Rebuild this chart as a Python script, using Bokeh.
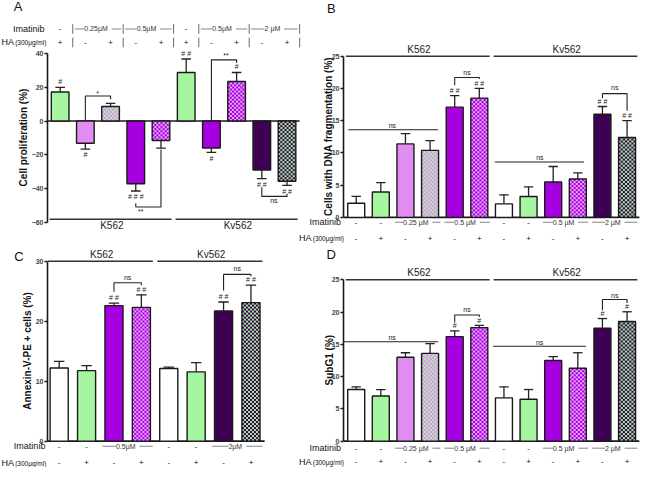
import math
import numpy as np
from bokeh.plotting import figure
from bokeh.models import Range1d, FixedTicker, Label, ColumnDataSource, GridBox
from bokeh.embed import file_html
from bokeh.resources import INLINE

FONT = "Liberation Sans"
SX = 642 / 658
SY = 467 / 483

# ---------------- data ----------------
A_vals = [17.2, -13.2, 8.6, -37.2, -11.5, 28.8, -16.0, 23.5, -29.0, -35.7]
A_errs = [2.8, 3.4, 1.9, 4.3, 4.5, 8.0, 2.6, 5.3, 5.2, 2.5]
A_sig = ["#", "#", "", "###", "", "##", "#", "#", "##", "##"]
A_style = ["G", "L", "LG", "P", "PL", "G", "P", "PL", "D", "DG"]
A_imatinib = ["-", "0.25µM", "0.25µM", "0.5µM", "0.5µM", "-", "0.5µM", "0.5µM", "2 µM", "2 µM"]
A_ha = ["+", "-", "+", "-", "+", "+", "-", "+", "-", "+"]
A_cells = ["K562"] * 5 + ["Kv562"] * 5
A_brackets = [(2, 3, 0.0, 14.9, 13.0, "*", 2.49, 16.6),
              (4, 5, -48.7, -51.0, -16.8, "**", 4.2, -53.8),
              (7, 8, 0.0, 36.3, 34.4, "**", 7.58, 38.6),
              (9, 10, -39.2, -44.7, -43.1, "ns", 9.48, -47.2)]
A_lines = []
A_separators = [1.5, 3.5, 5.5, 6.5, 8.5, 10.5]

B_vals = [2.2, 3.95, 11.4, 10.4, 17.1, 18.5, 2.1, 3.25, 5.5, 5.95, 16.0, 12.4]
B_errs = [1.05, 1.45, 1.6, 1.5, 1.8, 1.5, 1.4, 1.5, 2.4, 0.95, 1.2, 2.6]
B_sig = ["", "", "", "", "##", "##", "", "", "", "", "##", "##"]
B_style = ["W", "G", "L", "LG", "P", "PL", "W", "G", "P", "PL", "D", "DG"]
B_imatinib = ["-", "-", "0.25 µM", "0.25 µM", "0.5 µM", "0.5 µM", "-", "-", "0.5 µM", "0.5 µM", "2 µM", "2 µM"]
B_ha = ["-", "+"] * 6
B_cells = ["K562"] * 6 + ["Kv562"] * 6
B_brackets = [(5, 6, 20.5, 21.7, 21.45, "ns", 5.5, 22.55),
              (11, 12, 18.5, 19.2, 16.55, "ns", 11.5, 20.1)]
B_lines = [(0.68, 4.33, 13.6, "ns", 2.47, 14.25), (6.63, 10.25, 8.6, "ns", 8.46, 9.25)]

C_vals = [12.2, 11.75, 22.6, 22.3, 12.1, 11.55, 21.7, 23.1]
C_errs = [1.1, 0.85, 0.4, 2.1, 0.25, 1.55, 1.5, 2.9]
C_sig = ["", "", "##", "##", "", "", "##", "##"]
C_style = ["W", "G", "P", "PL", "W", "G", "D", "DG"]
C_imatinib = ["-", "-", "0.5µM", "0.5µM", "-", "-", "2µM", "2µM"]
C_ha = ["-", "+"] * 4
C_cells = ["K562"] * 4 + ["Kv562"] * 4
C_brackets = [(3, 4, 24.9, 26.4, 26.0, "ns", 3.5, 27.3),
              (7, 8, 25.1, 27.8, 27.5, "ns", 7.5, 28.7)]
C_lines = []

D_vals = [8.0, 7.0, 13.0, 13.6, 16.2, 17.6, 6.7, 6.5, 12.5, 11.3, 17.5, 18.55]
D_errs = [0.4, 1.0, 0.7, 1.5, 0.9, 0.35, 1.7, 1.5, 0.6, 2.4, 1.5, 1.5]
D_sig = ["", "", "", "", "#", "#", "", "", "", "", "#", "#"]
D_style = ["W", "G", "L", "LG", "P", "PL", "W", "G", "P", "PL", "D", "DG"]
D_imatinib = ["-", "-", "0.25 µM", "0.25 µM", "0.5 µM", "0.5 µM", "-", "-", "0.5 µM", "0.5 µM", "2 µM", "2 µM"]
D_ha = ["-", "+"] * 6
D_cells = ["K562"] * 6 + ["Kv562"] * 6
D_brackets = [(5, 6, 18.4, 19.55, 19.25, "ns", 5.5, 20.35),
              (11, 12, 20.3, 21.95, 21.4, "ns", 11.5, 22.6)]
D_lines = [(0.48, 4.33, 15.4, "ns", 2.46, 16.1), (6.56, 10.33, 14.7, "ns", 8.45, 15.3)]

# ---------------- styles ----------------
COL = {"W": ("#FFFFFF", None), "G": ("#A6F5A0", None), "L": ("#E08CF0", None),
       "P": ("#A600E0", None), "D": ("#3E0052", None),
       "LG": ("#E08CF0", "#B4F0B0"), "PL": ("#A600E0", "#EBA8F6"), "DG": ("#3E0052", "#9CE89C")}


def rgba32(hexcol):
    h = hexcol.lstrip("#")
    r, g, b = int(h[0:2], 16), int(h[2:4], 16), int(h[4:6], 16)
    return np.uint32((255 << 24) | (b << 16) | (g << 8) | r)


def lab(p, x, y, text, size, align="center", baseline="middle", bold=False,
        angle=0.0, bg=None, color="#111111"):
    p.add_layout(Label(x=x, y=y, text=text, text_font=FONT, text_font_size=f"{size}px",
                       text_align=align, text_baseline=baseline,
                       text_font_style="bold" if bold else "normal", angle=angle,
                       background_fill_color=bg, text_color=color))


def runs(labels):
    out = []
    i = 0
    while i < len(labels):
        j = i
        while j + 1 < len(labels) and labels[j + 1] == labels[i]:
            j += 1
        out.append((labels[i], i + 1, j + 1))
        i = j + 1
    return out


def build(P):
    cx0, cy0, cw, ch = P["canvas"]
    fl, ft, fr, fb = P["frame"]
    c1, dx = P["xmap"]
    (va, pa), (vb, pb) = P["ymap"]
    upp = (va - vb) / (pb - pa)

    def xd(px):
        return 1 + (px - c1) / dx

    def yd(py):
        return va + (pa - py) * upp

    W = round(cw * SX)
    H = round(ch * SY)
    L = round((fl - cx0) * SX)
    R = W - round((fr - cx0) * SX)
    T = round((ft - cy0) * SY)
    B = H - round((fb - cy0) * SY)
    p = figure(width=W, height=H, output_backend="svg", toolbar_location=None,
               x_range=Range1d(xd(fl), xd(fr)), y_range=Range1d(yd(fb), yd(ft)),
               x_axis_location=None, min_border_left=L, min_border_right=R,
               min_border_top=T, min_border_bottom=B, frame_align=False)
    p.grid.visible = False
    p.outline_line_color = None
    p.background_fill_color = "white"
    p.border_fill_color = "white"

    ax = p.yaxis[0]
    ax.bounds = P["ybounds"]
    ax.ticker = FixedTicker(ticks=P["yticks"])
    ax.minor_tick_line_color = None
    ax.major_tick_in = 0
    ax.major_tick_out = 3
    ax.major_tick_line_width = 1.3
    ax.axis_line_width = 1.6
    ax.axis_line_color = "#1a1a1a"
    ax.major_tick_line_color = "#1a1a1a"
    ax.major_label_text_font = FONT
    ax.major_label_text_font_size = "7px"
    ax.major_label_text_font_style = "bold"
    ax.major_label_standoff = 1

    vals, errs, sig, style = P["vals"], P["errs"], P["sig"], P["style"]
    n = len(vals)
    xs = list(range(1, n + 1))
    bw = P["bw"]

    # baseline at zero
    p.segment(x0=[xd(fl)], y0=[0], x1=[n + 0.5], y1=[0], line_color="#1a1a1a", line_width=1.6)

    plain = [i for i in range(n) if COL[style[i]][1] is None]
    chk = [i for i in range(n) if COL[style[i]][1] is not None]
    p.vbar(x="x", top="top", bottom=0, width=bw, fill_color="fill",
           line_color="#1a1a1a", line_width=1.4,
           source=ColumnDataSource(dict(x=[xs[i] for i in plain], top=[vals[i] for i in plain],
                                        fill=[COL[style[i]][0] for i in plain])))
    # checkered bars: a fine checkerboard image stretched over the bar extent, then the outline
    for i in chk:
        ca, cb = COL[style[i]]
        wpx = max(2, int(round(bw * dx * SX)))
        hpx = max(2, int(round(abs(vals[i]) / upp * SY)))
        yy, xx = np.mgrid[0:hpx, 0:wpx]
        mask = ((yy // 2 + xx // 2) % 2) == 0
        img = np.where(mask, rgba32(ca), rgba32(cb)).astype(np.uint32)
        p.image_rgba(image=[img], x=xs[i] - bw / 2, y=min(0, vals[i]), dw=bw, dh=abs(vals[i]))
    p.vbar(x=[xs[i] for i in chk], top=[vals[i] for i in chk], bottom=0, width=bw,
           fill_color=None, line_color="#1a1a1a", line_width=1.4)

    # one-sided error bars
    ends = [v + (e if v >= 0 else -e) for v, e in zip(vals, errs)]
    p.segment(x0=xs, y0=vals, x1=xs, y1=ends, line_color="#222222", line_width=1.3)
    p.segment(x0=[x - 0.19 for x in xs], y0=ends, x1=[x + 0.19 for x in xs], y1=ends,
              line_color="#222222", line_width=1.3)

    off = P["sig_off"] * upp
    for x, v, e, s in zip(xs, vals, ends, sig):
        if s:
            yy = e + off if v >= 0 else e - off
            lab(p, x, yy, " ".join(s), 7, color="#222222")

    for (i1, i2, yl, yb_, yr, t, tx, ty) in P["brackets"]:
        p.line(x=[i1, i1, i2, i2], y=[yl, yb_, yb_, yr], line_color="#222222", line_width=1.1)
        lab(p, tx, ty, t, 7, color="#222222")
    for (x1, x2, yy, t, tx, ty) in P["lines"]:
        p.segment(x0=[x1], y0=[yy], x1=[x2], y1=[yy], line_color="#222222", line_width=1.1)
        lab(p, tx, ty, t, 7, color="#222222")

    for (name, i0, i1) in runs(P["cells"]):
        yl = P["cells_line"] if P["cells_line"] is not None else P["ybounds"][1]
        p.segment(x0=[i0 - 0.42], y0=[yl], x1=[i1 + 0.42], y1=[yl], line_color="#333333", line_width=1.5)
        lab(p, (i0 + i1) / 2 + 0.05, yd(P["cells_label_py"]), name, 10,
            baseline=P["cells_baseline"], color="#222222")

    y_ima = yd(P["ima_py"])
    y_ha = yd(P["ha_py"])
    for (t, i0, i1) in runs(P["imatinib"]):
        if t == "-":
            for i in range(i0, i1 + 1):
                lab(p, i, y_ima, "-", 8)
        else:
            p.segment(x0=[i0 - 0.42], y0=[y_ima], x1=[i1 + 0.42], y1=[y_ima],
                      line_color="#666666", line_width=0.8)
            lab(p, (i0 + i1) / 2, y_ima, " " + t + " ", 7, bg="white", color="#333333")
    for x, t in zip(xs, P["ha"]):
        lab(p, x, y_ha, t, 8)

    for sx in P.get("separators", []):
        for (a, b) in [(24, 34), (38, 48)]:
            p.segment(x0=[sx], y0=[yd(a)], x1=[sx], y1=[yd(b)], line_color="#444444", line_width=0.8)
    return p


PA = dict(canvas=(0, 0, 310, 252), frame=(48, 14, 310, 250), xmap=(61, 25.9),
          ymap=((40, 54.5), (-60, 229)), bw=0.7, ybounds=(-60, 40),
          yticks=[-60, -40, -20, 0, 20, 40], sig_off=6,
          vals=A_vals, errs=A_errs, sig=A_sig, style=A_style, brackets=A_brackets, lines=A_lines,
          cells=A_cells, cells_line=-58.3, cells_label_py=232.5, cells_baseline="middle",
          imatinib=A_imatinib, ha=A_ha, ima_py=29, ha_py=43, separators=A_separators)
PB = dict(canvas=(310, 0, 348, 252), frame=(352, 40, 658, 252), xmap=(365, 25.2),
          ymap=((25, 57.3), (0, 224)), bw=0.69, ybounds=(0, 25),
          yticks=[0, 5, 10, 15, 20, 25], sig_off=5,
          vals=B_vals, errs=B_errs, sig=B_sig, style=B_style, brackets=B_brackets, lines=B_lines,
          cells=B_cells, cells_line=None, cells_label_py=56, cells_baseline="bottom",
          imatinib=B_imatinib, ha=B_ha, ima_py=229, ha_py=246)
PC = dict(canvas=(0, 252, 310, 231), frame=(48, 252, 310, 483), xmap=(60, 28.15),
          ymap=((30, 269.3), (0, 455.7)), bw=0.66, ybounds=(0, 30),
          yticks=[0, 10, 20, 30], sig_off=5.5,
          vals=C_vals, errs=C_errs, sig=C_sig, style=C_style, brackets=C_brackets, lines=C_lines,
          cells=C_cells, cells_line=None, cells_label_py=268, cells_baseline="bottom",
          imatinib=C_imatinib, ha=C_ha, ima_py=461, ha_py=478)
PD = dict(canvas=(310, 252, 348, 231), frame=(352, 252, 658, 483), xmap=(365, 25.2),
          ymap=((25, 288.6), (0, 455.7)), bw=0.69, ybounds=(0, 25),
          yticks=[0, 5, 10, 15, 20, 25], sig_off=5,
          vals=D_vals, errs=D_errs, sig=D_sig, style=D_style, brackets=D_brackets, lines=D_lines,
          cells=D_cells, cells_line=None, cells_label_py=287, cells_baseline="bottom",
          imatinib=D_imatinib, ha=D_ha, ima_py=463, ha_py=477)

pa, pb, pc, pd = build(PA), build(PB), build(PC), build(PD)

# transparent overlay for texts lying outside the plot frames
ov = figure(width=642, height=467, output_backend="svg", toolbar_location=None,
            x_range=Range1d(0, 658), y_range=Range1d(483, 0),
            x_axis_location=None, y_axis_location=None,
            min_border_left=0, min_border_right=0, min_border_top=0, min_border_bottom=0,
            frame_align=False)
ov.grid.visible = False
ov.outline_line_color = None
ov.background_fill_alpha = 0
ov.border_fill_alpha = 0

for (t, x, y) in [("A", 18, 6), ("B", 339, 8), ("C", 19, 265), ("D", 339, 263)]:
    lab(ov, x, y, t, 13)
for (t, x, y) in [("Cell proliferation (%)", 24, 141.7),
                  ("Cells with DNA fragmentation (%)", 336, 140.6),
                  ("Annexin-V-PE + cells (%)", 28, 362.5),
                  ("SubG1 (%)", 337, 372)]:
    lab(ov, x, y, t, 10, bold=True, angle=math.pi / 2)
for (xr, yi, xh, yh) in [(45, 29, 1, 43), (349, 229, 306, 246), (46, 461, 1, 478), (349, 463, 306, 477)]:
    lab(ov, xr, yi, "Imatinib", 9, align="right")
    lab(ov, xh, yh, "HA", 9, align="left")
    lab(ov, xh + 14, yh + 0.6, "(300µg/ml)", 6.5, align="left")

grid = GridBox(children=[(pa, 0, 0), (pb, 0, 1), (pc, 1, 0), (pd, 1, 1), (ov, 0, 0, 2, 2)])
open("out.html", "w").write(file_html(grid, INLINE))
